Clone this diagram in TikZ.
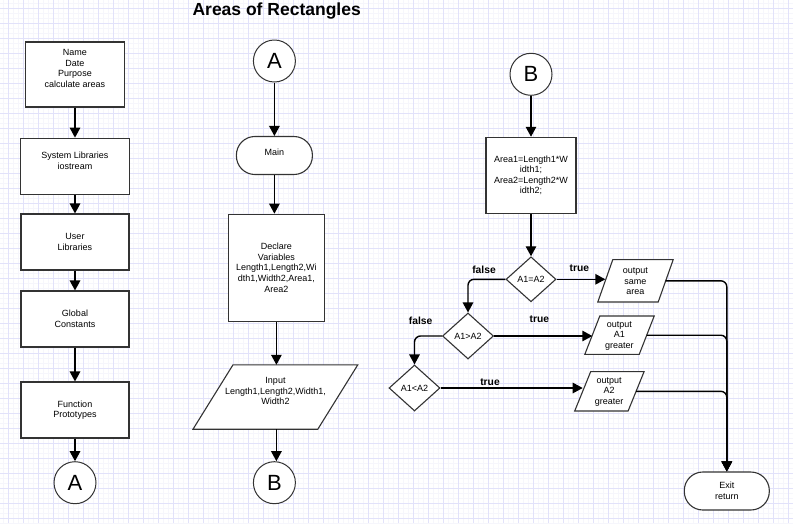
\documentclass[tikz,border=0pt]{standalone}
\usepackage{fontspec}
\setmainfont{Liberation Sans}
\usetikzlibrary{arrows.meta,shapes.geometric}
\definecolor{gridmaj}{RGB}{226,226,250}
\definecolor{gridmin}{RGB}{246,246,252}
\definecolor{edgec}{RGB}{51,51,51}
\begin{document}
\begin{tikzpicture}[x=1pt,y=-1pt,
  txt/.style={font=\fontsize{9}{10.6}\selectfont,align=center,inner sep=0pt,text=black},
  shp/.style={txt,draw=edgec,line width=1.1pt,fill=white},
  rectbox/.style={shp,rectangle},
  termbox/.style={shp,rectangle,rounded corners=18.5pt},
  dia/.style={shp,diamond,minimum width=50,minimum height=45},
  conn/.style={shp,circle,minimum size=42,font=\fontsize{22}{24}\selectfont,line width=1pt},
  para/.style={txt,rectangle},
  paraline/.style={draw=edgec,line width=1.1pt,fill=white},
  arr/.style={line width=1.4pt,-{Triangle[length=10pt,width=10.5pt]}},
  lbl/.style={font=\bfseries\fontsize{10.3}{12}\selectfont,inner sep=0pt}]
\useasboundingbox (0,0) rectangle (793,523);
\fill[white] (0,0) rectangle (793,523);
% grid
\foreach \i in {0,...,159} {\draw[gridmin,line width=0.6pt] ({3.33+5*\i},0) -- ({3.33+5*\i},523);}
\foreach \i in {0,...,105} {\draw[gridmin,line width=0.6pt] (0,{3.33+5*\i}) -- (793,{3.33+5*\i});}
\foreach \i in {0,...,52} {\draw[gridmaj,line width=0.9pt] ({8.33+15*\i},0) -- ({8.33+15*\i},523);}
\foreach \i in {0,...,34} {\draw[gridmaj,line width=0.9pt] (0,{8.33+15*\i}) -- (793,{8.33+15*\i});}

% title
\node[font=\bfseries\fontsize{17.5}{20}\selectfont,inner sep=0pt] (title) at (276.7,11.5) {Areas of Rectangles};

% left column
\node[rectbox,minimum width=99,minimum height=65] (b1) at (75,74.5) {};
\node[txt] (b1t) at (75,68.5) {Name\\Date\\Purpose\\calculate areas};
\node[rectbox,minimum width=109,minimum height=56] (b2) at (75,166.2) {};
\node[txt] (b2t) at (75,161) {System Libraries\\iostream};
\node[rectbox,minimum width=108,minimum height=56] (b3) at (75,242) {User\\Libraries};
\node[rectbox,minimum width=108,minimum height=56] (b4) at (75,319) {Global\\Constants};
\node[rectbox,minimum width=108,minimum height=56] (b5) at (75,410) {Function\\Prototypes};
\node[conn] (ca1) at (75,482.7) {A};
\draw[arr] (b1) -- (b2);
\draw[arr] (b2) -- (b3);
\draw[arr] (b3) -- (b4);
\draw[arr] (b4) -- (b5);
\draw[arr] (b5) -- (ca1);

% middle column
\node[conn] (ca2) at (274.4,61) {A};
\node[termbox,minimum width=76,minimum height=38] (main) at (274.4,155.5) {};
\node[txt] (maint) at (274.4,152) {Main};
\node[rectbox,minimum width=96,minimum height=107] (decl) at (276.4,267.7) {Declare\\Variables\\Length1,Length2,Wi\\dth1,Width2,Area1,\\Area2};
\node[para,minimum width=124.4,minimum height=64] (inp) at (275.4,397) {};
\draw[paraline] ([xshift=20pt]inp.north west) -- ([xshift=20pt]inp.north east) -- ([xshift=-20pt]inp.south east) -- ([xshift=-20pt]inp.south west) -- cycle;
\node[txt] (inpt) at (275.5,391) {Input\\Length1,Length2,Width1,\\Width2};
\node[conn] (cb1) at (274.4,482.7) {B};
\draw[arr] (ca2) -- (main);
\draw[arr] (main.south) -- (main.south |- decl.north);
\draw[arr] (decl.south) -- (decl.south |- inp.north);
\draw[arr] (decl.south |- inp.south) -- (decl.south |- cb1.north);

% right column
\node[conn] (cb2) at (531,74.3) {B};
\node[rectbox,minimum width=90,minimum height=76] (calc) at (531,175.3) {Area1=Length1*W\\idth1;\\Area2=Length2*W\\idth2;};
\node[dia] (d1) at (531,279.3) {A1=A2};
\node[dia,minimum width=51,minimum height=46] (d2) at (468,336) {A1>A2};
\node[dia,minimum width=51,minimum height=46] (d3) at (414.5,388) {A1<A2};

\node[para,minimum width=60,minimum height=42] (p1) at (635.5,280.8) {};
\node[para,minimum width=54,minimum height=38] (p2) at (619.5,335.2) {};
\node[para,minimum width=53,minimum height=39] (p3) at (609.4,391.3) {};
\draw[paraline] ([xshift=7.5pt]p1.north west) -- ([xshift=7.5pt]p1.north east) -- ([xshift=-7.5pt]p1.south east) -- ([xshift=-7.5pt]p1.south west) -- cycle;
\draw[paraline] ([xshift=7.5pt]p2.north west) -- ([xshift=7.5pt]p2.north east) -- ([xshift=-7.5pt]p2.south east) -- ([xshift=-7.5pt]p2.south west) -- cycle;
\draw[paraline] ([xshift=8pt]p3.north west) -- ([xshift=8pt]p3.north east) -- ([xshift=-8pt]p3.south east) -- ([xshift=-8pt]p3.south west) -- cycle;
\node[txt] (p1t) at (635.3,281.5) {output\\same\\area};
\node[txt] (p2t) at (619.4,335.7) {output\\A1\\greater};
\node[txt] (p3t) at (609.2,392) {output\\A2\\greater};
\node[termbox,minimum width=85,minimum height=38] (exit) at (726.8,491) {Exit\\return};

\draw[arr] (cb2) -- (calc);
\draw[arr] (calc) -- (d1);
\draw[arr,rounded corners=6pt] (d1.west) -| (d2.north);
\draw[arr,rounded corners=6pt] (d2.west) -| (d3.north);
\draw[arr] (d1.east) -- (d1.east -| p1.west);
\draw[arr] (d2.east) -- (d2.east -| p2.west);
\draw[arr] (d3.east) -- (d3.east -| p3.west);
\draw[arr,rounded corners=6pt] (p1.east) -| (exit.north);
\draw[arr,rounded corners=6pt] (p2.east) -| (exit.north);
\draw[arr,rounded corners=6pt] (p3.east) -| (exit.north);

\node[lbl] (f1) at (484,270) {false};
\node[lbl] (t1) at (579.3,268.3) {true};
\node[lbl] (f2) at (420.7,321) {false};
\node[lbl] (t2) at (539.3,319.3) {true};
\node[lbl] (t3) at (490,381.7) {true};
\end{tikzpicture}
\end{document}
